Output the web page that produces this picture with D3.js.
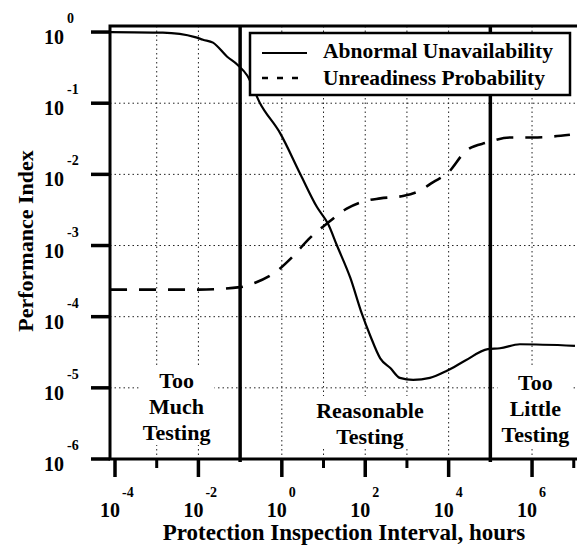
<!DOCTYPE html>
<html>
<head>
<meta charset="utf-8">
<script src="https://cdn.jsdelivr.net/npm/d3@7"></script>
<style>
  html, body { margin: 0; padding: 0; background: #fff; }
  svg { display: block; }
</style>
</head>
<body>
<div id="chart"></div>
<script>
// inspection interval (hours) and curve values
const abnormalX = [7.6e-5, 1.4e-3, 8.3e-3, 0.0129, 0.0224, 0.049, 0.085, 0.148, 0.30, 0.91, 2.75, 6.9, 12.9, 21, 44, 83, 132, 229, 400, 676, 1410, 3550, 9100, 24500, 87000, 1.7e5, 5.1e5, 1.07e7]
const abnormalY = [1.0, 0.98, 0.85, 0.78, 0.71, 0.45, 0.35, 0.245, 0.10, 0.038, 0.0102, 3.5e-3, 2.0e-3, 1.0e-3, 3.5e-4, 1.1e-4, 5.4e-5, 2.6e-5, 1.9e-5, 1.38e-5, 1.29e-5, 1.38e-5, 1.74e-5, 2.4e-5, 3.5e-5, 3.6e-5, 4.1e-5, 3.9e-5]

const unreadyX = [7.6e-5, 0.01, 0.1, 0.23, 0.81, 1.74, 4.8, 12.9, 36, 83, 229, 850, 2040, 4270, 9100, 27500, 83000, 2.95e5, 1.05e6, 8.1e6]
const unreadyY = [2.4e-4, 2.4e-4, 2.6e-4, 3.0e-4, 4.5e-4, 6.8e-4, 1.29e-3, 2.1e-3, 3.3e-3, 4.1e-3, 4.6e-3, 5.0e-3, 5.9e-3, 7.8e-3, 0.0102, 0.022, 0.028, 0.033, 0.033, 0.036]

const yTickExp = [0, -1, -2, -3, -4, -5, -6]
const xMajorExp = [-4, -2, 0, 2, 4, 6]
const xMinorExp = [-3, 1, 3, 7]
const xGridExp = [-3, -2, 0, 1, 2, 3, 4, 6]
const regionBounds = [0.1, 1e5]
const legendNames = ['Abnormal Unavailability', 'Unreadiness Probability']
const regionLabels = [
  { at: 0.003, base: 388, lines: ['Too', 'Much', 'Testing'] },
  { at: 130, base: 418, lines: ['Reasonable', 'Testing'] },
  { at: 1.2e6, base: 390, lines: ['Too', 'Little', 'Testing'] },
]

const width = 577
const height = 548
const font = '"Liberation Serif", "DejaVu Serif", serif'

const svg = d3.select('#chart').append('svg')
  .attr('width', width).attr('height', height)
  .style('font-family', font)

const x = d3.scaleLog().domain([Math.pow(10, -4.12), Math.pow(10, 7.03)]).range([110, 575])
const y = d3.scaleLog().domain([1e-6, Math.pow(10, 0.085)]).range([459, 26])

const pLeft = 110, pRight = 577, pTop = 26, pBottom = 459

// grid
const grid = svg.append('g').attr('stroke', '#222').attr('stroke-width', 1).attr('stroke-dasharray', '1.5,3')
grid.selectAll('.hg').data(yTickExp.slice(1, -1)).join('line')
  .attr('x1', pLeft).attr('x2', pRight)
  .attr('y1', d => y(Math.pow(10, d))).attr('y2', d => y(Math.pow(10, d)))
grid.selectAll('.vg').data(xGridExp).join('line')
  .attr('y1', pTop).attr('y2', pBottom)
  .attr('x1', d => x(Math.pow(10, d))).attr('x2', d => x(Math.pow(10, d)))

// region labels with white backing
const labelG = svg.append('g')
  .attr('font-size', 22).attr('font-weight', 'bold').attr('text-anchor', 'middle')
regionLabels.forEach(r => {
  const cx = x(r.at)
  const g = labelG.append('g')
  g.selectAll('text').data(r.lines).join('text')
    .attr('x', cx).attr('y', (d, i) => r.base + i * 26).text(d => d)
  const bb = g.node().getBBox()
  g.insert('rect', 'text')
    .attr('x', bb.x - 4).attr('y', bb.y - 2)
    .attr('width', bb.width + 8).attr('height', bb.height + 2)
    .attr('fill', '#fff')
})

// curves
const line = d3.line().curve(d3.curveMonotoneX).x(d => x(d[0])).y(d => y(d[1]))
svg.append('path')
  .datum(d3.zip(abnormalX, abnormalY))
  .attr('d', line).attr('fill', 'none').attr('stroke', '#000').attr('stroke-width', 2.2)
svg.append('path')
  .datum(d3.zip(unreadyX, unreadyY))
  .attr('d', line).attr('fill', 'none').attr('stroke', '#000').attr('stroke-width', 2.6)
  .attr('stroke-dasharray', '17,12')

// region boundaries
svg.selectAll('.bound').data(regionBounds).join('line')
  .attr('x1', d => x(d)).attr('x2', d => x(d))
  .attr('y1', pTop).attr('y2', pBottom + 3)
  .attr('stroke', '#000').attr('stroke-width', 3.5)

// frame
svg.append('path')
  .attr('d', `M${pRight},${pTop}H${pLeft}V${pBottom}H${pRight}`)
  .attr('fill', 'none').attr('stroke', '#000').attr('stroke-width', 3)

// y ticks
const yAxis = svg.append('g')
yAxis.selectAll('line').data(yTickExp).join('line')
  .attr('x1', 91).attr('x2', pLeft)
  .attr('y1', d => y(Math.pow(10, d))).attr('y2', d => y(Math.pow(10, d)))
  .attr('stroke', '#000').attr('stroke-width', 3.5)
const yLab = yAxis.selectAll('g.lab').data(yTickExp).join('g').attr('class', 'lab')
  .attr('font-weight', 'bold')
yLab.append('text')
  .attr('x', 64).attr('y', d => y(Math.pow(10, d)) + 12)
  .attr('text-anchor', 'end').attr('font-size', 20).text('10')
yLab.append('text')
  .attr('x', 67).attr('y', d => y(Math.pow(10, d)) - 9)
  .attr('font-size', 14).text(d => d === 0 ? '0' : '-' + (-d))

// x ticks
const xAxis = svg.append('g')
xAxis.selectAll('.maj').data(xMajorExp).join('line')
  .attr('x1', d => x(Math.pow(10, d))).attr('x2', d => x(Math.pow(10, d)))
  .attr('y1', pBottom).attr('y2', pBottom + 18)
  .attr('stroke', '#000').attr('stroke-width', 3.5)
xAxis.selectAll('.min').data(xMinorExp).join('line')
  .attr('x1', d => x(Math.pow(10, d))).attr('x2', d => x(Math.pow(10, d)))
  .attr('y1', pBottom).attr('y2', pBottom + 9)
  .attr('stroke', '#000').attr('stroke-width', 3)
const xLab = xAxis.selectAll('g.lab').data(xMajorExp).join('g').attr('class', 'lab')
  .attr('font-weight', 'bold')
xLab.append('text')
  .attr('x', d => x(Math.pow(10, d)) - 5).attr('y', 517)
  .attr('text-anchor', 'middle').attr('font-size', 20).text('10')
xLab.append('text')
  .attr('x', d => x(Math.pow(10, d)) + 7).attr('y', 497)
  .attr('font-size', 14).text(d => d === 0 ? '0' : d < 0 ? '-' + (-d) : String(d))

// axis titles
svg.append('text')
  .attr('x', 344).attr('y', 540).attr('text-anchor', 'middle')
  .attr('font-size', 23).attr('font-weight', 'bold')
  .text('Protection Inspection Interval, hours')
svg.append('text')
  .attr('transform', 'translate(33,241) rotate(-90)').attr('text-anchor', 'middle')
  .attr('font-size', 22).attr('font-weight', 'bold')
  .text('Performance Index')

// legend
const legend = svg.append('g')
legend.append('rect')
  .attr('x', 250).attr('y', 33).attr('width', 320).attr('height', 62)
  .attr('fill', '#fff').attr('stroke', '#000').attr('stroke-width', 2.5)
const li = legend.selectAll('g.item').data(legendNames).join('g').attr('class', 'item')
  .attr('transform', (d, i) => `translate(0,${53 + i * 25})`)
li.append('line')
  .attr('x1', 262).attr('x2', 307).attr('y1', 0).attr('y2', 0)
  .attr('stroke', '#000').attr('stroke-width', (d, i) => i ? 2.5 : 2.2)
  .attr('stroke-dasharray', (d, i) => i ? '6,9' : null)
li.append('text')
  .attr('x', 323).attr('y', (d, i) => i ? 7 : 5).attr('font-size', 21.5).attr('font-weight', 'bold')
  .text(d => d)
</script>
</body>
</html>
